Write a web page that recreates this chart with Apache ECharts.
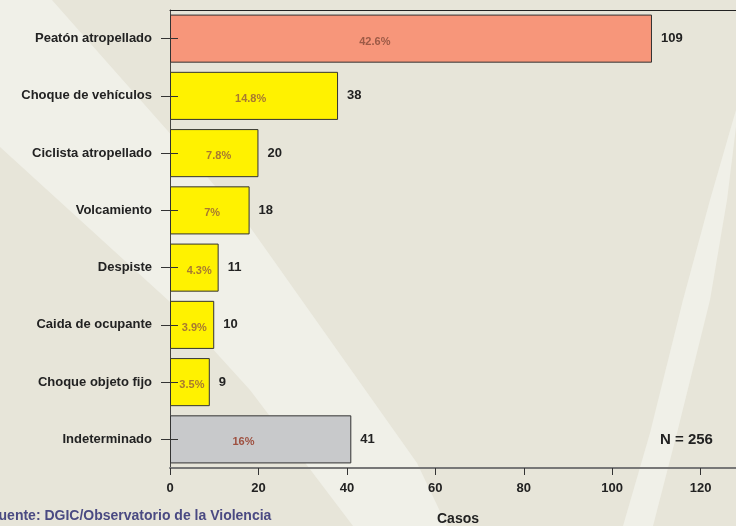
<!DOCTYPE html>
<html>
<head>
<meta charset="utf-8">
<script src="https://cdn.jsdelivr.net/npm/echarts@6/dist/echarts.min.js"></script>
<style>
html,body{margin:0;padding:0;background:#E7E5D9;overflow:hidden;}
#chart{width:736px;height:526px;}
</style>
</head>
<body>
<div id="chart"></div>
<script>
var categories = ['Peatón atropellado','Choque de vehículos','Ciclista atropellado','Volcamiento','Despiste','Caida de ocupante','Choque objeto fijo','Indeterminado'];
var casos = [109, 38, 20, 18, 11, 10, 9, 41];
var porcentajes = ['42.6%','14.8%','7.8%','7%','4.3%','3.9%','3.5%','16%'];
var xTicks = [0, 20, 40, 60, 80, 100, 120];
var totalN = 'N = 256';
var fuente = 'Fuente: DGIC/Observatorio de la Violencia';
var ejeX = 'Casos';

// styles
var barColors = ['#F7967A','#FFF200','#FFF200','#FFF200','#FFF200','#FFF200','#FFF200','#C8C9CB'];
var pctColors = ['#9C5A46','#A87A30','#A87A30','#A87A30','#A87A30','#A87A30','#A87A30','#9E5040'];
var pctPos = ['42.5%','48%','55%','53%','60%','55%','55%','40.5%'];

var font = 'Liberation Sans, Arial, sans-serif';
var chart = echarts.init(document.getElementById('chart'), null, {renderer:'canvas'});

var mainData = casos.map(function(v,i){
  return {value:v, itemStyle:{color:barColors[i]}};
});
var pctData = casos.map(function(v,i){
  return {value:v, label:{position:[pctPos[i], '56%'], color:pctColors[i], formatter:porcentajes[i]}};
});

chart.setOption({
  backgroundColor:'#E7E5D9',
  animation:false,
  graphic:[
    {type:'polygon', z:-100, silent:true,
     shape:{points:[[0,0],[52,0],[167,130],[250,227],[417,463],[447,526],[353,526],[250,390],[170,302],[0,147]]},
     style:{fill:'#F0F0E8'}},
    {type:'polygon', z:-100, silent:true,
     shape:{points:[[623,526],[650,433],[683,300],[710,200],[736,110],[736,127],[727,200],[710,300],[677,433],[653,526]]},
     style:{fill:'#F0F0E8'}},
    {type:'text', left:660, top:432, z:10,
     style:{text:totalN, font:'bold 15px '+font, fill:'#222'}},
    {type:'text', left:-10, top:509, z:10,
     style:{text:fuente, font:'bold 14px '+font, fill:'#4A4A82'}},
    {type:'text', left:437, top:512, z:10,
     style:{text:ejeX, font:'bold 14px '+font, fill:'#222'}}
  ],
  grid:{left:170, top:10, right:0, bottom:58, containLabel:false},
  xAxis:[
    {type:'value', min:0, max:128, interval:20, position:'bottom',
     axisLine:{show:true, lineStyle:{color:'#777', width:2}},
     axisTick:{show:true, length:7, customValues:xTicks, lineStyle:{color:'#333', width:1}},
     axisLabel:{margin:14, fontSize:13, fontWeight:'bold', fontFamily:font, color:'#222', customValues:xTicks},
     splitLine:{show:false}},
    {type:'value', min:0, max:128, interval:20, position:'top',
     axisLine:{show:true, lineStyle:{color:'#222', width:1}},
     axisTick:{show:false}, axisLabel:{show:false}, splitLine:{show:false}}
  ],
  yAxis:[
    {type:'category', data:categories, inverse:true, position:'left',
     axisLine:{show:true, onZero:false, lineStyle:{color:'#444', width:1}},
     axisTick:{show:true, alignWithLabel:true, length:9, lineStyle:{color:'#333'}},
     axisLabel:{margin:18, fontSize:13, fontWeight:'bold', fontFamily:font, color:'#222'}},
    {type:'category', data:categories, inverse:true, position:'left', z:10,
     axisLine:{show:false},
     axisTick:{show:true, inside:true, alignWithLabel:true, length:8, lineStyle:{color:'#333'}},
     axisLabel:{show:false}}
  ],
  series:[
    {type:'bar', data:mainData, barCategoryGap:'16%', xAxisIndex:0, yAxisIndex:0,
     itemStyle:{borderColor:'#333', borderWidth:1},
     label:{show:true, position:'right', distance:9, fontSize:13, fontWeight:'bold', fontFamily:font, color:'#222'}},
    {type:'bar', data:pctData, barCategoryGap:'16%', barGap:'-100%', xAxisIndex:0, yAxisIndex:0, z:3,
     itemStyle:{color:'rgba(0,0,0,0)'},
     label:{show:true, align:'center', verticalAlign:'middle', fontSize:11, fontWeight:'bold', fontFamily:font}}
  ]
});
</script>
</body>
</html>
